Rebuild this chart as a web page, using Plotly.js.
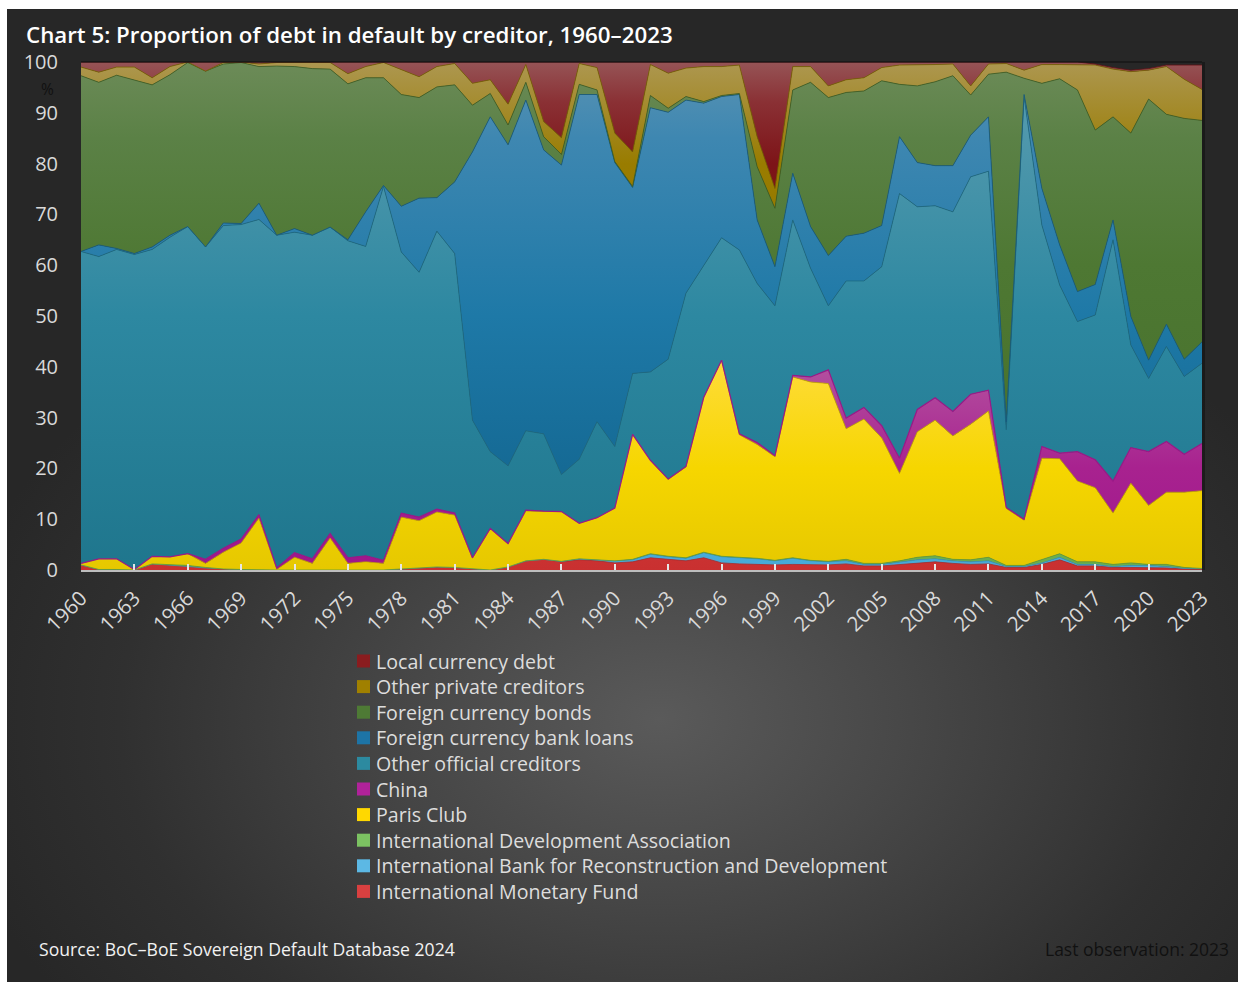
<!DOCTYPE html>
<html>
<head>
<meta charset="utf-8">
<script src="https://cdn.plot.ly/plotly-3.0.1.min.js"></script>
<style>
  html, body { margin: 0; padding: 0; background: #ffffff; }
  #bg { position: absolute; left: 7px; top: 9px; width: 1231px; height: 973px;
        background: radial-gradient(ellipse 720px 500px at 53% 73%, #5a5a5a 0%, #474747 35%, #303030 75%, #272727 100%); }
  #chart { position: absolute; left: 0; top: 0; width: 1238px; height: 982px; }
</style>
</head>
<body>
<div id="bg"></div>
<div id="chart"></div>
<script>
const years = [1960,1961,1962,1963,1964,1965,1966,1967,1968,1969,
  1970,1971,1972,1973,1974,1975,1976,1977,1978,1979,
  1980,1981,1982,1983,1984,1985,1986,1987,1988,1989,
  1990,1991,1992,1993,1994,1995,1996,1997,1998,1999,
  2000,2001,2002,2003,2004,2005,2006,2007,2008,2009,
  2010,2011,2012,2013,2014,2015,2016,2017,2018,2019,
  2020,2021,2022,2023];

const imf = [1.0,0.1,0.1,0,1.2,1.0,0.7,0.4,0.2,0.1,
  0,0,0,0,0,0,0,0,0.2,0.4,
  0.6,0.5,0.2,0,0.6,1.8,2.1,1.6,2.0,1.8,
  1.4,1.6,2.4,2.1,1.8,2.4,1.4,1.2,1.1,1.0,
  1.1,1.0,1.0,1.2,0.8,0.8,1.1,1.4,1.6,1.3,
  1.1,1.2,0.5,0.5,1.1,2.0,0.8,0.8,0.5,0.5,
  0.5,0.4,0.2,0.1];

const ibrd = [0,0,0,0,0,0,0,0,0,0,
  0,0,0,0,0,0,0,0,0,0,
  0,0,0,0,0,0,0,0.1,0.2,0.2,
  0.4,0.4,0.7,0.5,0.5,1.0,1.2,1.2,1.1,0.8,
  1.2,0.8,0.6,0.6,0.3,0.3,0.4,0.6,0.6,0.5,
  0.5,0.6,0.2,0.2,0.3,0.5,0.3,0.3,0.2,0.4,
  0.4,0.3,0.1,0.2];

const ida = [0,0,0,0,0,0,0.2,0.1,0,0,
  0,0,0,0,0,0,0,0,0,0,
  0,0,0,0,0,0,0,0,0,0,
  0,0.1,0.1,0.1,0.1,0.1,0.1,0.1,0.1,0.1,
  0.1,0.1,0.1,0.3,0.2,0.2,0.3,0.5,0.6,0.3,
  0.4,0.7,0.2,0.2,0.6,0.7,0.5,0.5,0.4,0.5,
  0.2,0.4,0.2,0];

const parisClub = [0.3,2.1,2.1,0.1,1.5,1.6,2.3,0.8,3.3,5.2,
  10.2,0.1,2.5,1.3,6.3,1.3,1.6,1.3,10.2,9.3,
  10.8,10.3,2.1,8.1,4.5,9.8,9.4,9.8,7.0,8.3,
  10.4,24.6,18.4,15.1,17.9,30.5,38.6,24.1,22.4,20.4,
  35.6,35.1,35.0,25.7,28.4,24.7,17.2,24.7,26.7,24.3,
  26.7,28.8,11.2,8.9,20.0,18.7,15.9,14.6,10.1,15.7,
  11.6,14.2,14.8,15.3];

const china = [0,0,0,0,0,0,0,0.8,0.8,0.8,
  0.7,0.3,0.9,0.9,0.9,1.1,1.2,0.6,0.8,0.7,
  0.6,0.4,0.1,0.1,0.1,0.2,0.1,0,0,0,
  0,0,0,0.1,0.1,0,0,0.2,0.4,0.2,
  0.3,1.0,2.7,2.1,2.3,2.4,3.0,4.4,4.4,4.8,
  5.9,4.1,0.2,0.2,2.3,1.1,5.8,5.5,6.3,7.0,
  10.6,10.0,7.5,9.3];

const otherOfficial = [61.4,59.5,60.9,62.0,60.4,62.9,64.4,61.5,63.5,61.9,
  58.1,65.5,63.1,63.7,60.3,62.4,60.9,73.6,51.4,48.2,
  54.7,51.1,27.1,15.1,15.3,15.6,15.2,7.3,12.6,18.9,
  12.1,12.0,17.4,23.6,34.1,26.0,24.1,36.2,31.3,29.5,
  30.6,21.4,12.6,27.0,24.9,31.3,52.1,39.9,37.8,39.3,
  42.8,43.1,15.3,83.2,43.6,33.1,25.6,28.5,47.5,20.2,
  14.4,18.7,15.3,15.8];

const bankLoans = [0,2.3,0.2,0.2,0.5,0.4,0,0,0.5,0.2,
  3.2,0,0.7,0,0,0.2,6.8,0.2,9.0,14.6,
  6.6,14.1,52.8,65.9,63.2,65.1,55.9,60.9,71.8,64.4,
  55.9,36.6,52.0,48.6,38.0,31.9,27.8,30.6,12.5,7.7,
  9.2,8.2,9.9,8.8,9.4,8.1,11.2,8.7,7.9,9.1,
  8.2,10.7,1.6,0.4,7.2,7.9,5.9,6.0,3.9,5.6,
  3.6,4.4,3.4,4.2];

const bonds = [34.6,32.0,34.1,34.2,31.9,31.6,32.3,34.6,31.3,31.7,
  26.9,33.3,31.9,32.8,31.1,30.7,26.4,21.2,22.0,19.8,
  21.8,19.1,9.2,4.6,3.9,3.5,2.6,2.1,2.0,0.9,
  0.2,0.2,2.4,0.8,0.7,0.3,0.2,0.2,10.5,11.5,
  16.4,28.4,31.1,28.3,28.0,28.5,10.3,15.1,16.5,17.7,
  7.9,8.4,68.8,3.2,20.7,32.7,39.7,30.4,20.3,36.1,
  51.4,41.3,47.4,43.6];

const otherPrivate = [1.7,2.0,1.6,2.5,1.4,1.6,0.1,0,0.3,0.1,
  0.5,0.7,0.8,1.2,1.3,2.0,2.2,3.0,4.9,4.1,
  4.0,4.2,4.3,2.7,4.1,3.5,3.0,3.3,4.1,4.4,
  5.6,6.8,6.1,6.9,5.6,6.9,5.7,5.6,5.9,3.9,
  4.6,3.1,2.3,2.5,2.6,2.6,3.8,4.1,3.4,2.3,
  1.8,2.0,1.7,1.6,3.7,2.8,5.0,12.8,9.4,12.1,
  5.7,9.4,7.7,6.1];

const localCurrency = [1.0,2.0,1.0,1.0,3.1,0.9,0,1.8,0.1,0,
  0.4,0.1,0.1,0.1,0.1,2.3,0.9,0.1,1.5,2.9,
  0.9,0.3,4.2,3.5,8.3,0.5,11.7,14.9,0.3,1.1,
  14.0,17.7,0.5,2.2,1.2,0.9,0.9,0.6,14.7,24.9,
  0.9,0.9,4.7,3.5,3.1,1.1,0.6,0.6,0.5,0.4,
  4.7,0.4,0.3,1.6,0.5,0.5,0.5,0.2,0.3,0.3,
  0.3,0.3,2.8,4.8];

const seriesNames = ['International Monetary Fund',
  'International Bank for Reconstruction and Development',
  'International Development Association',
  'Paris Club', 'China', 'Other official creditors',
  'Foreign currency bank loans', 'Foreign currency bonds',
  'Other private creditors', 'Local currency debt'];

const seriesValues = [imf, ibrd, ida, parisClub, china, otherOfficial,
  bankLoans, bonds, otherPrivate, localCurrency];

const xTickLabels = ['1960','1963','1966','1969','1972','1975','1978','1981','1984','1987','1990',
  '1993','1996','1999','2002','2005','2008','2011','2014','2017','2020','2023'];
const xTickVals = [1960,1963,1966,1969,1972,1975,1978,1981,1984,1987,1990,
  1993,1996,1999,2002,2005,2008,2011,2014,2017,2020,2023];

// styling
const gradients = [
  [[0,'#c93030'],[1,'#e46a6a']],
  [[0,'#46aad8'],[1,'#86cdee']],
  [[0,'#6aae4c'],[1,'#9fd385']],
  [[0,'#e6c800'],[0.2,'#f6d600'],[0.42,'#ffdc3c'],[1,'#ffe98c']],
  [[0,'#9e168c'],[0.2,'#a8228f'],[0.4,'#b3509f'],[1,'#c98cbb']],
  [[0,'#1f768d'],[0.5,'#2d88a1'],[0.8,'#4a95aa'],[1,'#5a9db0']],
  [[0,'#0f608a'],[0.2,'#156a95'],[0.5,'#1e79a7'],[0.85,'#3e87b1'],[1,'#5a93b3']],
  [[0,'#446e28'],[0.6,'#4e7833'],[0.85,'#5b8146'],[1,'#6c8b58']],
  [[0,'#866c00'],[0.8,'#997c00'],[1,'#ad9750']],
  [[0,'#6a0a0e'],[0.8,'#7d1418'],[0.92,'#8a3034'],[1,'#965456']]
];
const lineColors = ['#b02a2a','#3a94c0','#5a9a40','#c9ac00','#9a1a88','#1d6a80',
  '#155a80','#3a5e24','#7a6300','#5e1013'];
const swatchColors = ['#d94040','#5cb8e4','#7cc262','#ffd800','#b0229a','#2c8aa0',
  '#1d74a6','#4e7a35','#a08000','#8a1c1f'];

const traces = seriesValues.map((vals, i) => ({
  type: 'scatter', mode: 'lines', x: years, y: vals, name: seriesNames[i],
  stackgroup: 'one',
  line: {width: i === 4 ? 1.2 : 0.8, color: lineColors[i]},
  fillgradient: {type: 'vertical', start: 0, stop: 100, colorscale: gradients[i]},
  showlegend: false,
  hoverinfo: 'x+y+name'
}));

// geometry helpers (plot area: x 81..1202, y 62..570 px)
const PL = 81, PR = 1202, PT = 62, PB = 570;
const px = v => (v - PL) / (PR - PL);
const py = v => (PB - v) / (PB - PT);

const shapes = [
  {type:'line', xref:'paper', yref:'paper', x0:0, x1:1, y0:1, y1:1,
   line:{color:'rgba(15,15,15,0.7)', width:1.5}},
  {type:'line', xref:'paper', yref:'paper', x0:px(1203.5), x1:px(1203.5), y0:py(570), y1:1,
   line:{color:'rgba(10,10,10,0.45)', width:3}}
];
const annotations = [];

// custom legend (top to bottom: reverse of stacking order)
for (let k = 0; k < 10; k++) {
  const i = 9 - k;
  const cy = 661 + 25.6 * k;
  shapes.push({type:'rect', xref:'paper', yref:'paper',
    x0: px(357), x1: px(370), y0: py(cy + 6.5), y1: py(cy - 6.5),
    fillcolor: swatchColors[i], line:{width:0}});
  annotations.push({xref:'paper', yref:'paper', x: px(374), y: py(cy),
    xanchor:'left', yanchor:'middle', showarrow:false, text: seriesNames[i],
    font:{family:'Open Sans, sans-serif', size:19.6, color:'#dddddd'}});
}

annotations.push({xref:'paper', yref:'paper', x: px(47), y: py(89), xanchor:'center', yanchor:'middle',
  showarrow:false, text:'%', font:{family:'Open Sans, sans-serif', size:15.5, color:'#111111'}});
annotations.push({xref:'paper', yref:'paper', x: px(37), y: py(949), xanchor:'left', yanchor:'middle',
  showarrow:false, text:'Source: BoC–BoE Sovereign Default Database 2024',
  font:{family:'Open Sans, sans-serif', size:17.6, color:'#f2f2f2'}});
annotations.push({xref:'paper', yref:'paper', x: px(1231), y: py(949), xanchor:'right', yanchor:'middle',
  showarrow:false, text:'Last observation: 2023',
  font:{family:'Open Sans, sans-serif', size:17.5, color:'#111111'}});

const layout = {
  width: 1238, height: 982,
  margin: {l: PL, r: 1238 - PR, t: PT, b: 982 - PB, pad: 0},
  paper_bgcolor: 'rgba(0,0,0,0)', plot_bgcolor: 'rgba(0,0,0,0)',
  font: {family: 'Open Sans, sans-serif', color: '#d9d9d9'},
  title: {text: 'Chart 5: Proportion of debt in default by creditor, 1960–2023',
    xref: 'container', yref: 'container', x: 26/1238, xanchor: 'left',
    y: 1 - 35/982, yanchor: 'middle',
    font: {family: 'Open Sans, sans-serif', size: 22.3, weight: 600, color: '#ffffff'}},
  xaxis: {range: [1960, 2023], tickvals: xTickVals, ticktext: xTickLabels, tickangle: -45,
    tickfont: {size: 20.5, color: '#d9d9d9'}, ticks: 'inside', ticklen: 6, tickwidth: 2,
    tickcolor: '#e6e6e6', showline: true, linecolor: '#bdbdbd', linewidth: 2,
    showgrid: false, zeroline: false, ticklabelstandoff: 6, fixedrange: true},
  yaxis: {range: [0, 100], dtick: 10, tick0: 0, tickfont: {size: 20, color: '#d9d9d9'},
    showgrid: false, zeroline: false, showline: false, ticks: '', ticklabelstandoff: 22,
    fixedrange: true},
  showlegend: false,
  shapes: shapes,
  annotations: annotations
};

Plotly.newPlot('chart', traces, layout, {displayModeBar: false, staticPlot: true});
</script>
</body>
</html>
